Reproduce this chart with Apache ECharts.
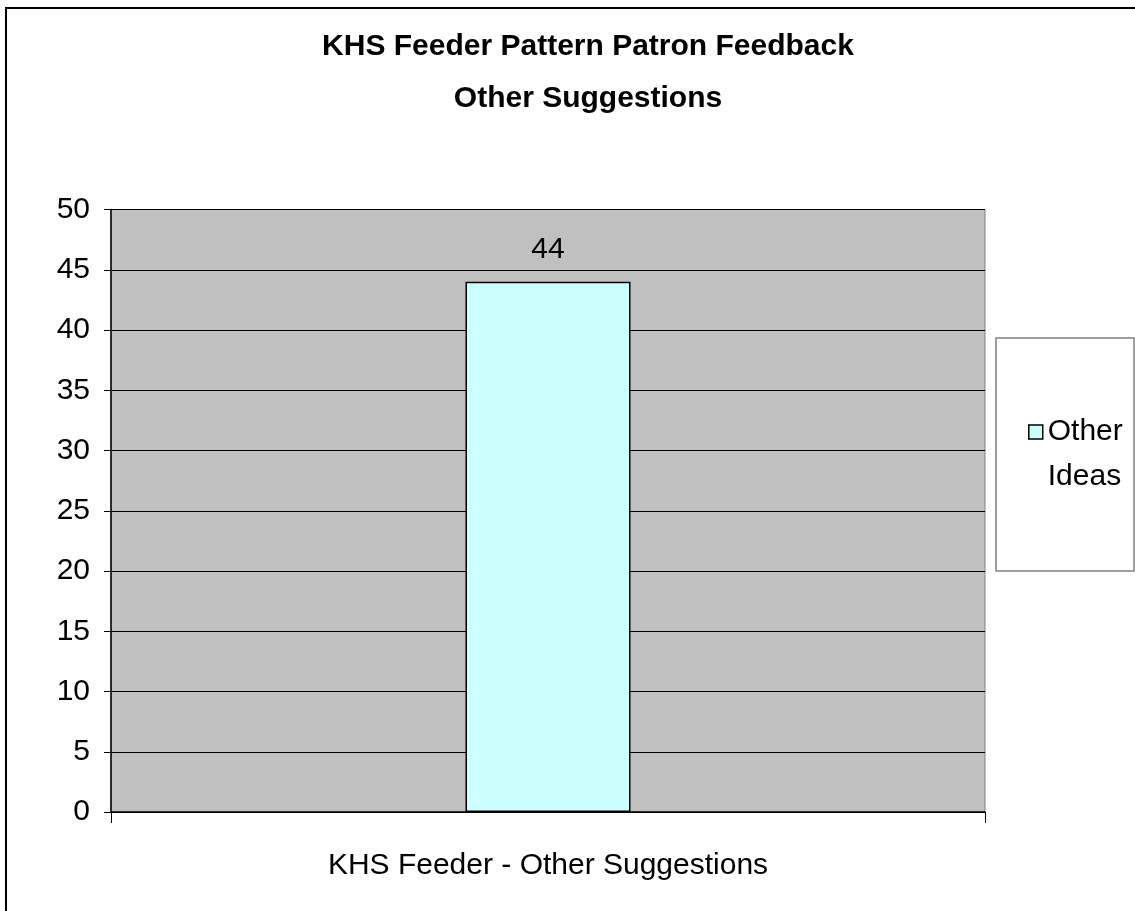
<!DOCTYPE html>
<html>
<head>
<meta charset="utf-8">
<script src="https://cdn.jsdelivr.net/npm/echarts@6/dist/echarts.min.js"></script>
<style>
html,body{margin:0;padding:0;background:#fff;}
#c{width:1135px;height:911px;}
</style>
</head>
<body>
<div id="c"></div>
<script>
const titleLines = ["KHS Feeder Pattern Patron Feedback", "Other Suggestions"];
const categories = ["KHS Feeder - Other Suggestions"];
const seriesName = "Other Ideas";
const legendLines = ["Other", "Ideas"];
const values = [44];
const yMin = 0, yMax = 50, yStep = 5;

const FONT = '"Liberation Sans Narrow", "Arial Narrow", "Liberation Sans", Arial, sans-serif';

const chart = echarts.init(document.getElementById('c'));
chart.setOption({
  backgroundColor: '#ffffff',
  animation: false,
  title: {
    text: titleLines.join('\n'),
    left: 583, top: 16, textAlign: 'center',
    textStyle: { fontFamily: FONT, fontWeight: 'bold', fontSize: 30, lineHeight: 52, color: '#000' }
  },
  legend: {
    orient: 'vertical',
    left: 1028, top: 372,
    itemWidth: 14, itemHeight: 14, itemGap: 0,
    padding: 0,
    data: [{ name: seriesName, icon: 'rect' }],
    formatter: function () { return '{t| }\n{a|' + legendLines[0] + '}\n{a|' + legendLines[1] + '}'; },
    textStyle: {
      fontFamily: FONT, fontSize: 30, color: '#000',
      rich: {
        t: { fontFamily: FONT, fontSize: 30, lineHeight: 45 },
        a: { fontFamily: FONT, fontSize: 30, lineHeight: 45, color: '#000' }
      }
    },
    itemStyle: { borderColor: '#000', borderWidth: 1.5 }
  },
  grid: {
    left: 111, right: 150, top: 209.5, bottom: 99,
    show: true, backgroundColor: '#c0c0c0', borderColor: '#808080', borderWidth: 1
  },
  xAxis: {
    type: 'category', data: categories,
    axisLine: { show: true, lineStyle: { color: '#000', width: 1.5 } },
    axisTick: { show: true, length: 11, alignWithLabel: false, lineStyle: { color: '#000' } },
    axisLabel: { fontFamily: FONT, fontSize: 30, color: '#000', margin: 39 }
  },
  yAxis: {
    type: 'value', min: yMin, max: yMax, interval: yStep,
    axisLine: { show: true, lineStyle: { color: '#000', width: 1.5 } },
    axisTick: { show: true, length: 7, lineStyle: { color: '#000' } },
    axisLabel: { fontFamily: FONT, fontSize: 30, color: '#000', margin: 21 },
    splitLine: { show: true, lineStyle: { color: '#000', width: 1 } }
  },
  series: [{
    name: seriesName, type: 'bar', data: values,
    barWidth: 165,
    itemStyle: { color: '#ccffff', borderColor: '#000', borderWidth: 1.5 },
    label: { show: true, position: 'top', distance: 17, fontFamily: FONT, fontSize: 30, color: '#000' }
  }],
  graphic: [
    { type: 'rect', shape: { x: 6, y: 8, width: 1300, height: 1100 }, style: { fill: 'none', stroke: '#000', lineWidth: 2 }, silent: true, z: -1 },
    { type: 'rect', shape: { x: 996, y: 338, width: 138, height: 233 }, style: { fill: '#fff', stroke: '#808080', lineWidth: 1.5 }, silent: true, z: -1 }
  ]
});
</script>
</body>
</html>
